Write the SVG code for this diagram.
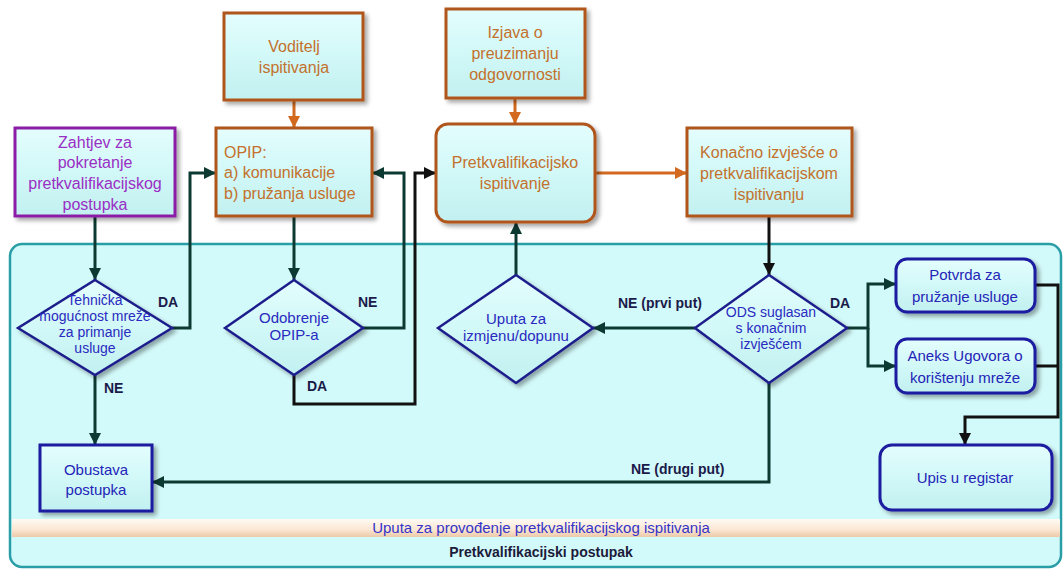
<svg xmlns="http://www.w3.org/2000/svg" width="1063" height="570" viewBox="0 0 1063 570">
<defs>
<linearGradient id="gBox" x1="0" y1="0" x2="0" y2="1">
<stop offset="0" stop-color="#e4fdfd"/><stop offset="0.5" stop-color="#d2f8f8"/><stop offset="1" stop-color="#c2f0f0"/>
</linearGradient>
<linearGradient id="gBand" x1="0" y1="0" x2="0" y2="1">
<stop offset="0" stop-color="#fffaf4"/><stop offset="0.6" stop-color="#fbe6d2"/><stop offset="1" stop-color="#ecc9a8"/>
</linearGradient>
<filter id="sh" x="-10%" y="-10%" width="130%" height="130%">
<feDropShadow dx="3" dy="3" stdDeviation="2" flood-color="#000" flood-opacity="0.35"/>
</filter>
<marker id="aG" viewBox="0 0 10 10" refX="10" refY="5" markerWidth="12" markerHeight="12" markerUnits="userSpaceOnUse" orient="auto"><path d="M0,0 L10,5 L0,10 z" fill="#0c3a32"/></marker>
<marker id="aK" viewBox="0 0 10 10" refX="10" refY="5" markerWidth="12" markerHeight="12" markerUnits="userSpaceOnUse" orient="auto"><path d="M0,0 L10,5 L0,10 z" fill="#111"/></marker>
<marker id="aO" viewBox="0 0 10 10" refX="10" refY="5" markerWidth="12" markerHeight="12" markerUnits="userSpaceOnUse" orient="auto"><path d="M0,0 L10,5 L0,10 z" fill="#d2691e"/></marker>
</defs>
<style>
text{font-family:"Liberation Sans",Arial,sans-serif}
.box{fill:url(#gBox);filter:url(#sh)}
.org{stroke:#b0561c;stroke-width:3}
.pur{stroke:#8a1fa6;stroke-width:3}
.blu{stroke:#1c1ca0;stroke-width:3}
.dia{fill:url(#gBox);stroke:#1f1f8c;stroke-width:2.5;filter:url(#sh)}
.tO{fill:#c3712c;font-size:16px;text-anchor:middle}
.tOL{fill:#c3712c;font-size:16px;text-anchor:start}
.tP{fill:#9a2fc4;font-size:16px;text-anchor:middle}
.tB{fill:#2424b8;font-size:15px;text-anchor:middle}
.tD{fill:#2a2ac0;font-size:14px;text-anchor:middle}
.tD2{fill:#2a2ac0;font-size:15px;text-anchor:middle}
.lab{fill:#1b1b4a;font-size:14px;font-weight:bold}
.cG{fill:none;stroke:#0c3a32;stroke-width:3}
.cK{fill:none;stroke:#111;stroke-width:3}
.cO{fill:none;stroke:#d2691e;stroke-width:3}
</style>

<g id="container">
<rect x="10" y="244" width="1051" height="323" rx="12" fill="#d3fafa" stroke="#2a9ea6" stroke-width="2.5"/>
<rect x="12" y="519" width="1048" height="18" fill="url(#gBand)"/>
<text x="541" y="533" style="fill:#3434c8;font-size:15px;text-anchor:middle">Uputa za provođenje pretkvalifikacijskog ispitivanja</text>
<text x="541" y="557" style="fill:#1b1b3a;font-size:14px;font-weight:bold;text-anchor:middle">Pretkvalifikacijski postupak</text>
</g>

<g id="connectors">
<path class="cO" d="M294,100 V128" marker-end="url(#aO)"/>
<path class="cO" d="M515,98 V124" marker-end="url(#aO)"/>
<path class="cO" d="M595,173 H687" marker-end="url(#aO)"/>
<path class="cG" d="M95,217 V280" marker-end="url(#aG)"/>
<path class="cG" d="M172,328 H190 V173 H216" marker-end="url(#aG)"/>
<path class="cG" d="M95,375 V445" marker-end="url(#aG)"/>
<path class="cG" d="M294,217 V280" marker-end="url(#aG)"/>
<path class="cG" d="M363,328 H404 V173 H372" marker-end="url(#aG)"/>
<path class="cK" d="M294,375 V404 H415 V173 H436" marker-end="url(#aK)"/>
<path class="cG" d="M516,275 V222" marker-end="url(#aG)"/>
<path class="cG" d="M695,328 H593" marker-end="url(#aG)"/>
<path class="cK" d="M769,216 V275" marker-end="url(#aK)"/>
<path class="cG" d="M847,328 H868 V284 H896" marker-end="url(#aG)"/>
<path class="cG" d="M868,328 V366 H896" marker-end="url(#aG)"/>
<path class="cK" d="M1035,285 H1058 V417 H965 V445" marker-end="url(#aK)"/>
<path class="cK" d="M1035,366 H1058"/>
<path class="cG" d="M769,383 V482 H152" marker-end="url(#aG)"/>
<text class="lab" x="158" y="307">DA</text>
<text class="lab" x="104" y="393">NE</text>
<text class="lab" x="358" y="307">NE</text>
<text class="lab" x="307" y="391">DA</text>
<text class="lab" x="618" y="308">NE (prvi put)</text>
<text class="lab" x="830" y="308">DA</text>
<text class="lab" x="631" y="474">NE (drugi put)</text>
</g>

<g id="n-zahtjev">
<rect class="box pur" x="15" y="128" width="160" height="88"/>
<text class="tP" x="95" y="148">Zahtjev za</text>
<text class="tP" x="95" y="168">pokretanje</text>
<text class="tP" x="95" y="189">pretkvalifikacijskog</text>
<text class="tP" x="95" y="210">postupka</text>
</g>

<g id="n-voditelj">
<rect class="box org" x="224" y="13" width="139" height="87"/>
<text class="tO" x="294" y="52">Voditelj</text>
<text class="tO" x="294" y="73">ispitivanja</text>
</g>

<g id="n-opip">
<rect class="box org" x="216" y="128" width="156" height="88"/>
<text class="tOL" x="224" y="158">OPIP:</text>
<text class="tOL" x="224" y="178">a) komunikacije</text>
<text class="tOL" x="224" y="199">b) pružanja usluge</text>
</g>

<g id="n-izjava">
<rect class="box org" x="446" y="9" width="139" height="89"/>
<text class="tO" x="515" y="38">Izjava o</text>
<text class="tO" x="515" y="59">preuzimanju</text>
<text class="tO" x="515" y="80">odgovornosti</text>
</g>

<g id="n-pretkv">
<rect class="box org" x="436" y="124" width="159" height="98" rx="12"/>
<text class="tO" x="515" y="168">Pretkvalifikacijsko</text>
<text class="tO" x="515" y="189">ispitivanje</text>
</g>

<g id="n-konacno">
<rect class="box org" x="687" y="128" width="165" height="88"/>
<text class="tO" x="769" y="158">Konačno izvješće o</text>
<text class="tO" x="769" y="179">pretkvalifikacijskom</text>
<text class="tO" x="769" y="200">ispitivanju</text>
</g>

<g id="n-tehnicka">
<polygon class="dia" points="95,280 172,328 95,375 18,328"/>
<text class="tD" x="95" y="305">Tehnička</text>
<text class="tD" x="95" y="321">mogućnost mreže</text>
<text class="tD" x="95" y="337">za primanje</text>
<text class="tD" x="95" y="353">usluge</text>
</g>

<g id="n-odobrenje">
<polygon class="dia" points="294,280 363,328 294,375 225,328"/>
<text class="tD2" x="294" y="323">Odobrenje</text>
<text class="tD2" x="294" y="340">OPIP-a</text>
</g>

<g id="n-uputa">
<polygon class="dia" points="516,275 593,328 516,383 438,328"/>
<text class="tD2" x="516" y="324">Uputa za</text>
<text class="tD2" x="516" y="341">izmjenu/dopunu</text>
</g>

<g id="n-ods">
<polygon class="dia" points="769,275 847,328 769,383 695,328"/>
<text class="tD" x="771" y="317">ODS suglasan</text>
<text class="tD" x="771" y="333">s konačnim</text>
<text class="tD" x="771" y="349">izvješćem</text>
</g>

<g id="n-potvrda">
<rect class="box blu" x="896" y="259" width="139" height="53" rx="11"/>
<text class="tB" x="965" y="280">Potvrda za</text>
<text class="tB" x="965" y="302">pružanje usluge</text>
</g>

<g id="n-aneks">
<rect class="box blu" x="896" y="339" width="139" height="54" rx="11"/>
<text class="tB" x="965" y="361">Aneks Ugovora o</text>
<text class="tB" x="965" y="383">korištenju mreže</text>
</g>

<g id="n-upis">
<rect class="box blu" x="880" y="445" width="172" height="65" rx="12"/>
<text class="tB" x="965" y="483">Upis u registar</text>
</g>

<g id="n-obustava">
<rect class="box blu" x="40" y="445" width="112" height="66"/>
<text class="tB" x="96" y="475">Obustava</text>
<text class="tB" x="96" y="495">postupka</text>
</g>
</svg>
